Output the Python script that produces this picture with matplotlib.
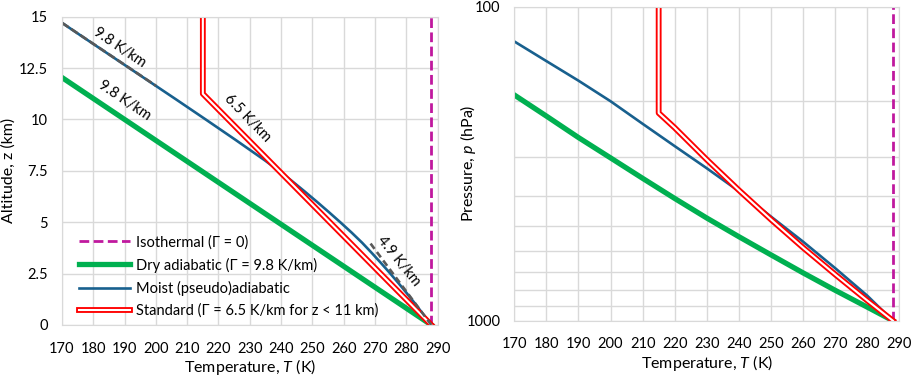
import matplotlib
matplotlib.use('Agg')
import matplotlib.pyplot as plt
import matplotlib.patheffects as pe
from matplotlib.ticker import FixedLocator, NullFormatter

plt.rcParams['font.family'] = ['Lato', 'DejaVu Sans']
plt.rcParams['mathtext.fontset'] = 'custom'
plt.rcParams['mathtext.rm'] = 'Lato'
plt.rcParams['mathtext.it'] = 'Lato:italic'

# ---- data: left panel (altitude, km) ----
t_iso = [288, 288]
z_iso = [0, 15]

t_dry = [288, 170]
z_dry = [0, 12.04]

t_std = [288, 215, 215]
z_std = [0, 11.25, 15]

z_moist = [0, 0.5, 1, 1.5, 2, 2.5, 3, 3.5, 4, 4.5, 5, 5.5, 6, 6.5, 7, 7.5, 8,
           9, 10, 11, 12, 13, 14, 14.7]
t_moist = [288.0, 285.5, 283.0, 280.4, 277.7, 274.9, 272.0, 269.0, 265.9,
           262.5, 258.9, 255.2, 251.4, 247.5, 243.5, 239.3, 234.9,
           225.5, 215.9, 206.2, 196.4, 186.6, 176.8, 170.0]

# guide lines for the labelled lapse rates
t_guide98 = [170, 200]
z_guide98 = [14.7, 11.64]
t_guide49 = [288, 268.4]
z_guide49 = [0, 4.0]

# ---- data: right panel (pressure, hPa) ----
p_iso = [1000, 100]

t_dry_p = [288, 280, 270, 260, 250, 240, 230, 220, 210, 200, 190, 180, 170]
p_dry = [1000, 905, 800, 704, 617, 540, 471, 408, 352, 303, 261, 223, 191]

t_moist_p = [288, 284, 280, 270, 260, 250, 240, 230, 220, 210, 200, 190, 180, 170]
p_moist = [1000, 912, 832, 680, 560, 466, 387, 327, 278, 236, 200, 172, 149, 129]

t_std_p = [288, 280, 270, 260, 250, 240, 230, 220, 215, 215]
p_std = [1000, 862, 712, 585, 476, 384, 307, 243, 218, 100]

temp_ticks = list(range(170, 291, 10))
alt_ticks = [0, 2.5, 5, 7.5, 10, 12.5, 15]
alt_labels = ['0', '2.5', '5', '7.5', '10', '12.5', '15']

c_iso = '#C0189E'
c_dry = '#00B050'
c_moist = '#18608E'
c_std = '#FF0000'
c_grid = '#D9D9D9'
c_guide = '#595959'

double_red = [pe.Stroke(linewidth=4.2, foreground=c_std), pe.Normal()]

fig = plt.figure(figsize=(9.13, 3.79), dpi=100)
ax1 = fig.add_axes([0.0679, 0.1425, 0.4114, 0.8135])
ax2 = fig.add_axes([0.5633, 0.1538, 0.4217, 0.8285])


def style(ax):
    ax.grid(True, which='both', color=c_grid, linewidth=1)
    ax.set_axisbelow(True)
    for s in ax.spines.values():
        s.set_color(c_grid)
    ax.tick_params(which='both', length=0, labelsize=10.5, colors='black')
    ax.tick_params(axis='x', pad=12)
    ax.tick_params(axis='y', pad=10)


# left panel
ax1.plot(t_iso, z_iso, color=c_iso, lw=2, dashes=(3.5, 1.6), label='Isothermal (Γ = 0)')
ax1.plot(t_dry, z_dry, color=c_dry, lw=3.8, label='Dry adiabatic (Γ = 9.8 K/km)')
ax1.plot(t_moist, z_moist, color=c_moist, lw=1.9, label='Moist (pseudo)adiabatic')
ax1.plot(t_std, z_std, color='white', lw=1.5, path_effects=double_red,
         label='Standard (Γ = 6.5 K/km for z < 11 km)')
ax1.plot(t_guide98, z_guide98, color=c_guide, lw=1.9, dashes=(3, 1.2))
ax1.plot(t_guide49, z_guide49, color=c_guide, lw=1.9, dashes=(2.5, 1.5))

ax1.text(188.5, 13.52, '9.8 K/km', rotation=-34, ha='center', va='center', fontsize=10.5)
ax1.text(190.1, 10.91, '9.8 K/km', rotation=-34, ha='center', va='center', fontsize=10.5)
ax1.text(229.4, 10.07, '6.5 K/km', rotation=-46, ha='center', va='center', fontsize=10.5)
ax1.text(277.6, 3.1, '4.9 K/km', rotation=-51, ha='center', va='center', fontsize=10.5)

ax1.set_xlim(170, 290)
ax1.set_ylim(0, 15)
ax1.set_xticks(temp_ticks)
ax1.set_yticks(alt_ticks)
ax1.set_yticklabels(alt_labels)
style(ax1)
ax1.set_xlabel('Temperature, $T$ (K)', fontsize=11.5, labelpad=1)
ax1.set_ylabel('Altitude, z (km)', fontsize=11.5, labelpad=2)
ax1.legend(loc='upper left', bbox_to_anchor=(0.027, 0.315), frameon=False,
           borderpad=0, handlelength=3.5, handletextpad=0.4, labelspacing=0.55,
           fontsize=10.5)

# right panel
ax2.plot([288, 288], p_iso, color=c_iso, lw=2, dashes=(3.5, 1.6))
ax2.plot(t_dry_p, p_dry, color=c_dry, lw=3.8)
ax2.plot(t_moist_p, p_moist, color=c_moist, lw=1.9)
ax2.plot(t_std_p, p_std, color='white', lw=1.5, path_effects=double_red)

ax2.set_yscale('log')
ax2.set_xlim(170, 290)
ax2.set_ylim(1000, 100)
ax2.set_xticks(temp_ticks)
ax2.yaxis.set_major_locator(FixedLocator([100, 1000]))
ax2.set_yticklabels(['100', '1000'])
ax2.yaxis.set_minor_locator(FixedLocator([200, 300, 400, 500, 600, 700, 800, 900]))
ax2.yaxis.set_minor_formatter(NullFormatter())
style(ax2)
ax2.set_xlabel('Temperature, $T$ (K)', fontsize=11.5, labelpad=1)
ax2.set_ylabel('Pressure, $p$ (hPa)', fontsize=11.5, labelpad=-8)

fig.savefig('out.png', dpi=100)
